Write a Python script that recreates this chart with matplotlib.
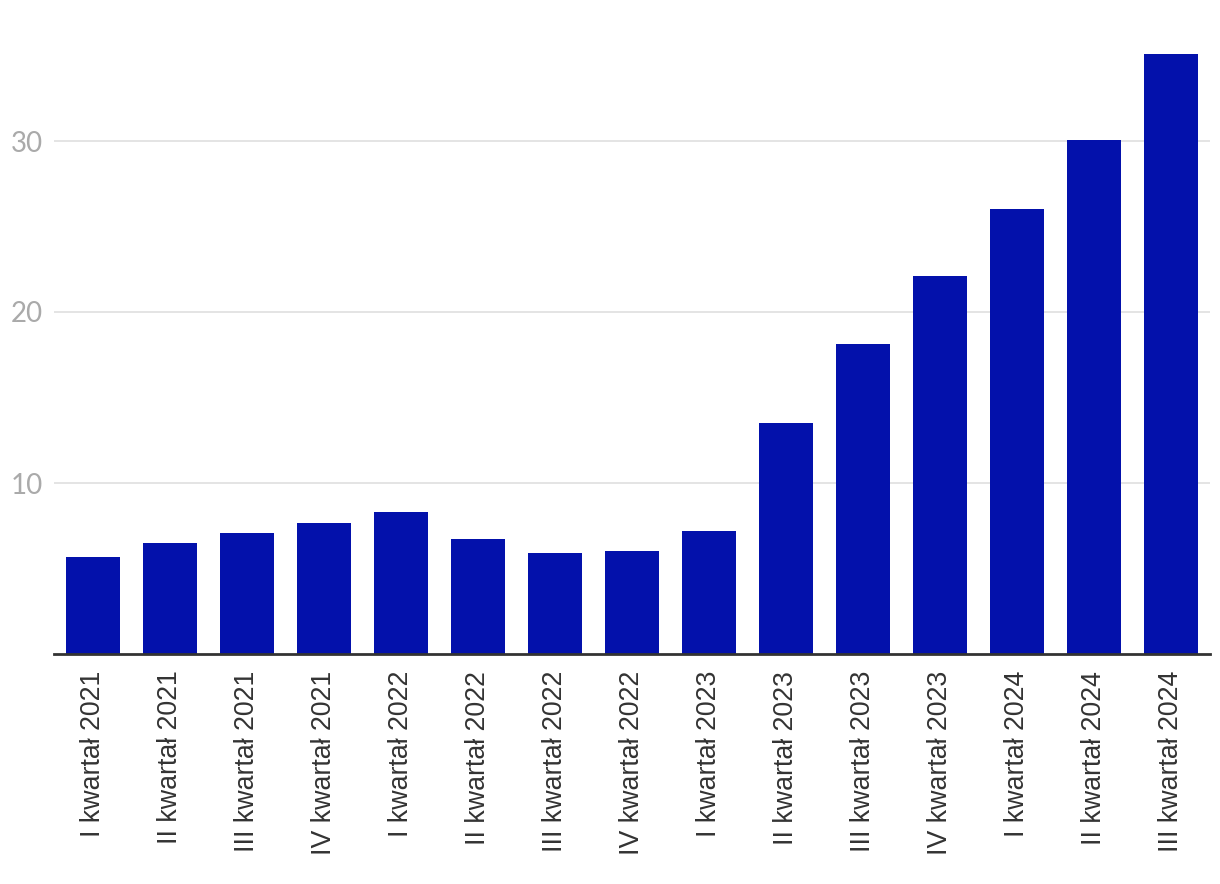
import matplotlib
matplotlib.use("Agg")
import matplotlib.pyplot as plt

categories = ["I kwartał 2021", "II kwartał 2021", "III kwartał 2021", "IV kwartał 2021",
              "I kwartał 2022", "II kwartał 2022", "III kwartał 2022", "IV kwartał 2022",
              "I kwartał 2023", "II kwartał 2023", "III kwartał 2023", "IV kwartał 2023",
              "I kwartał 2024", "II kwartał 2024", "III kwartał 2024"]
values = [5.67, 6.49, 7.08, 7.66, 8.30, 6.73, 5.91, 6.02, 7.19, 13.5, 18.13, 22.1, 26.0, 30.06, 35.1]
yticks = [10, 20, 30]

fig = plt.figure(figsize=(12.2, 8.84), dpi=100)
ax = fig.add_axes([54/1220, 1-654/884, (1210-54)/1220, (654-30)/884])

x = list(range(len(categories)))
ax.bar(x, values, width=0.70, color="#0311AB", zorder=3)
ax.set_xlim(-0.5, len(categories) - 0.5)
ax.set_ylim(0, (654-30)/17.1)

ax.set_yticks(yticks)
ax.set_yticklabels([str(t) for t in yticks], fontfamily="Lato", fontsize=20, color="#aaaaaa")
ax.set_xticks(x)
ax.set_xticklabels(categories, rotation=90, fontfamily="Liberation Sans", fontsize=19.3, color="#333333")
ax.tick_params(axis="y", length=0, pad=8)
ax.tick_params(axis="x", length=0, pad=12)
ax.grid(axis="y", color="#e2e2e2", linewidth=1.3, zorder=0)
for s in ["top", "right", "left"]:
    ax.spines[s].set_visible(False)
ax.spines["bottom"].set_color("#333333")
ax.spines["bottom"].set_linewidth(2)
ax.spines["bottom"].set_zorder(4)

fig.savefig("out.png", dpi=100)
